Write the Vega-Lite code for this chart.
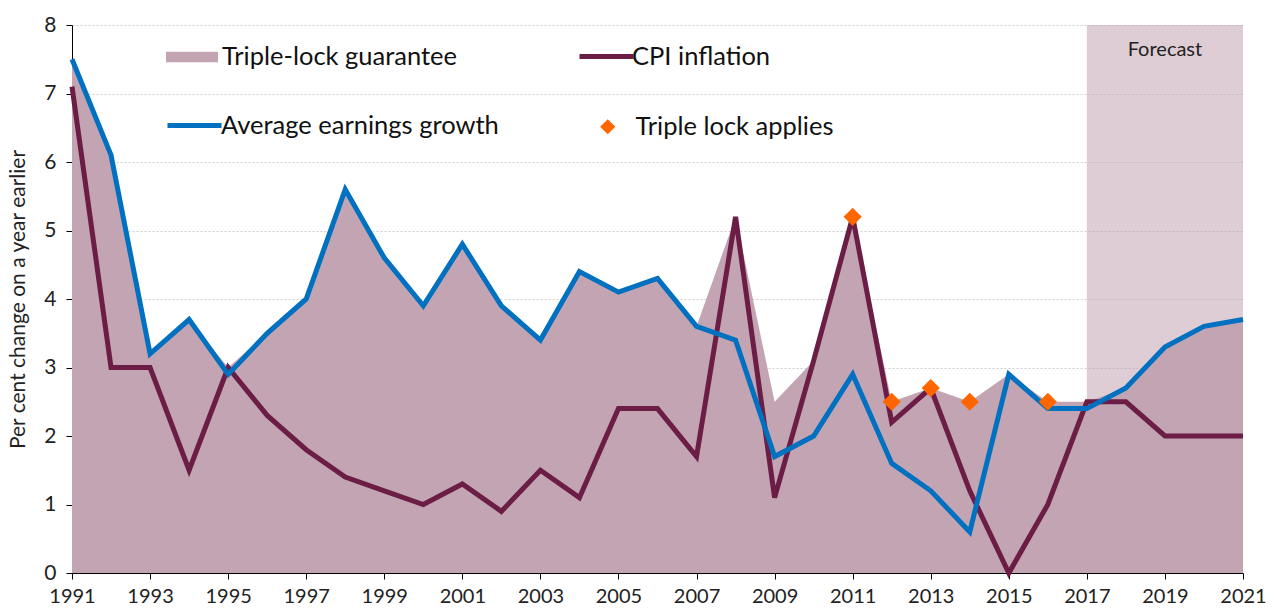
{
  "$schema": "https://vega.github.io/schema/vega-lite/v6.json",
  "autosize": "none",
  "width": 1171,
  "height": 548,
  "padding": {"left": 72, "top": 25, "right": 31, "bottom": 39},
  "background": "white",
  "config": {
    "font": "Lato",
    "view": {"stroke": null},
    "axis": {"labelFont": "Lato", "titleFont": "Lato", "labelColor": "#222", "titleColor": "#222"},
    "legend": {"padding": 0, "labelFont": "Lato", "labelFontSize": 25.5, "labelColor": "#111", "labelLimit": 400, "title": null}
  },
  "data": {
    "values": [
      {"year": 1991, "cpi": 7.1, "earn": 7.5, "triple": 7.5},
      {"year": 1992, "cpi": 3.0, "earn": 6.1, "triple": 6.1},
      {"year": 1993, "cpi": 3.0, "earn": 3.2, "triple": 3.2},
      {"year": 1994, "cpi": 1.5, "earn": 3.7, "triple": 3.7},
      {"year": 1995, "cpi": 3.0, "earn": 2.9, "triple": 3.0},
      {"year": 1996, "cpi": 2.3, "earn": 3.5, "triple": 3.5},
      {"year": 1997, "cpi": 1.8, "earn": 4.0, "triple": 4.0},
      {"year": 1998, "cpi": 1.4, "earn": 5.6, "triple": 5.6},
      {"year": 1999, "cpi": 1.2, "earn": 4.6, "triple": 4.6},
      {"year": 2000, "cpi": 1.0, "earn": 3.9, "triple": 3.9},
      {"year": 2001, "cpi": 1.3, "earn": 4.8, "triple": 4.8},
      {"year": 2002, "cpi": 0.9, "earn": 3.9, "triple": 3.9},
      {"year": 2003, "cpi": 1.5, "earn": 3.4, "triple": 3.4},
      {"year": 2004, "cpi": 1.1, "earn": 4.4, "triple": 4.4},
      {"year": 2005, "cpi": 2.4, "earn": 4.1, "triple": 4.1},
      {"year": 2006, "cpi": 2.4, "earn": 4.3, "triple": 4.3},
      {"year": 2007, "cpi": 1.7, "earn": 3.6, "triple": 3.6},
      {"year": 2008, "cpi": 5.2, "earn": 3.4, "triple": 5.2},
      {"year": 2009, "cpi": 1.1, "earn": 1.7, "triple": 2.5},
      {"year": 2010, "cpi": 3.1, "earn": 2.0, "triple": 3.1},
      {"year": 2011, "cpi": 5.2, "earn": 2.9, "triple": 5.2, "lock": 5.2},
      {"year": 2012, "cpi": 2.2, "earn": 1.6, "triple": 2.5, "lock": 2.5},
      {"year": 2013, "cpi": 2.7, "earn": 1.2, "triple": 2.7, "lock": 2.7},
      {"year": 2014, "cpi": 1.2, "earn": 0.6, "triple": 2.5, "lock": 2.5},
      {"year": 2015, "cpi": 0.0, "earn": 2.9, "triple": 2.9},
      {"year": 2016, "cpi": 1.0, "earn": 2.4, "triple": 2.5, "lock": 2.5},
      {"year": 2017, "cpi": 2.5, "earn": 2.4, "triple": 2.5},
      {"year": 2018, "cpi": 2.5, "earn": 2.7, "triple": 2.7},
      {"year": 2019, "cpi": 2.0, "earn": 3.3, "triple": 3.3},
      {"year": 2020, "cpi": 2.0, "earn": 3.6, "triple": 3.6},
      {"year": 2021, "cpi": 2.0, "earn": 3.7, "triple": 3.7}
    ]
  },
  "layer": [
    {
      "data": {"values": [{"start": 2017, "end": 2021}]},
      "mark": {"type": "rect", "color": "#C2A4B2", "opacity": 0.55},
      "encoding": {
        "x": {"field": "start", "type": "quantitative", "scale": {"domain": [1991, 2021], "nice": false, "zero": false},
          "axis": {"values": [1991,1993,1995,1997,1999,2001,2003,2005,2007,2009,2011,2013,2015,2017,2019,2021], "format": "d", "title": null, "grid": false, "labelFontSize": 20, "tickSize": 6, "tickColor": "#000", "domainColor": "#000", "labelPadding": 7, "labelFlush": false}},
        "x2": {"field": "end"},
        "y": {"datum": 8, "type": "quantitative"},
        "y2": {"datum": 0}
      }
    },
    {
      "data": {"values": [{"label": "Forecast", "mid": 2019}]},
      "mark": {"type": "text", "fontSize": 20, "color": "#222", "font": "Lato"},
      "encoding": {
        "x": {"field": "mid", "type": "quantitative"},
        "y": {"datum": 7.63, "type": "quantitative"},
        "text": {"field": "label"}
      }
    },
    {
      "mark": {"type": "area", "interpolate": "linear"},
      "encoding": {
        "x": {"field": "year", "type": "quantitative"},
        "y": {"field": "triple", "type": "quantitative", "scale": {"domain": [0, 8], "nice": false},
          "axis": {"values": [0,1,2,3,4,5,6,7,8], "format": "d", "title": "Per cent change on a year earlier", "titleFontSize": 21, "titleFontWeight": "normal", "titlePadding": 15, "labelFontSize": 21, "tickSize": 6, "tickColor": "#000", "domainColor": "#000", "labelPadding": 10, "grid": true, "gridColor": "#cfcfcf", "gridDash": [2, 2], "labelFlush": false}},
        "fill": {"datum": "Triple-lock guarantee", "type": "nominal", "scale": {"range": ["#C2A4B2"]},
          "legend": {"orient": "none", "legendX": 94, "legendY": 6, "symbolType": "M-1,-0.2H1V0.2H-1Z", "symbolSize": 2704, "symbolStrokeWidth": 0, "labelOffset": 4}}
      }
    },
    {
      "mark": {"type": "line", "strokeWidth": 5},
      "encoding": {
        "x": {"field": "year", "type": "quantitative"},
        "y": {"field": "cpi", "type": "quantitative"},
        "stroke": {"datum": "CPI inflation", "type": "nominal", "scale": {"range": ["#6B1D46"]},
          "legend": {"orient": "none", "legendX": 505, "legendY": 2, "symbolType": "stroke", "symbolSize": 2916, "symbolStrokeWidth": 5, "labelOffset": -4}}
      }
    },
    {
      "mark": {"type": "line", "strokeWidth": 5},
      "encoding": {
        "x": {"field": "year", "type": "quantitative"},
        "y": {"field": "earn", "type": "quantitative"},
        "stroke": {"datum": "Average earnings growth", "type": "nominal", "scale": {"range": ["#0070C0"]},
          "legend": {"orient": "none", "legendX": 93, "legendY": 71, "symbolType": "stroke", "symbolSize": 2916, "symbolStrokeWidth": 5, "labelOffset": -3}}
      }
    },
    {
      "mark": {"type": "point", "shape": "diamond", "filled": true, "size": 330, "opacity": 1},
      "encoding": {
        "x": {"field": "year", "type": "quantitative"},
        "y": {"field": "lock", "type": "quantitative"},
        "fill": {"datum": "Triple lock applies", "type": "nominal", "scale": {"range": ["#FF6600"]},
          "legend": {"orient": "none", "legendX": 523, "legendY": 89, "symbolType": "diamond", "symbolSize": 230, "symbolStrokeWidth": 0, "labelOffset": 15}}
      }
    }
  ],
  "resolve": {"scale": {"fill": "independent", "stroke": "independent"}, "legend": {"fill": "independent", "stroke": "independent"}}
}
